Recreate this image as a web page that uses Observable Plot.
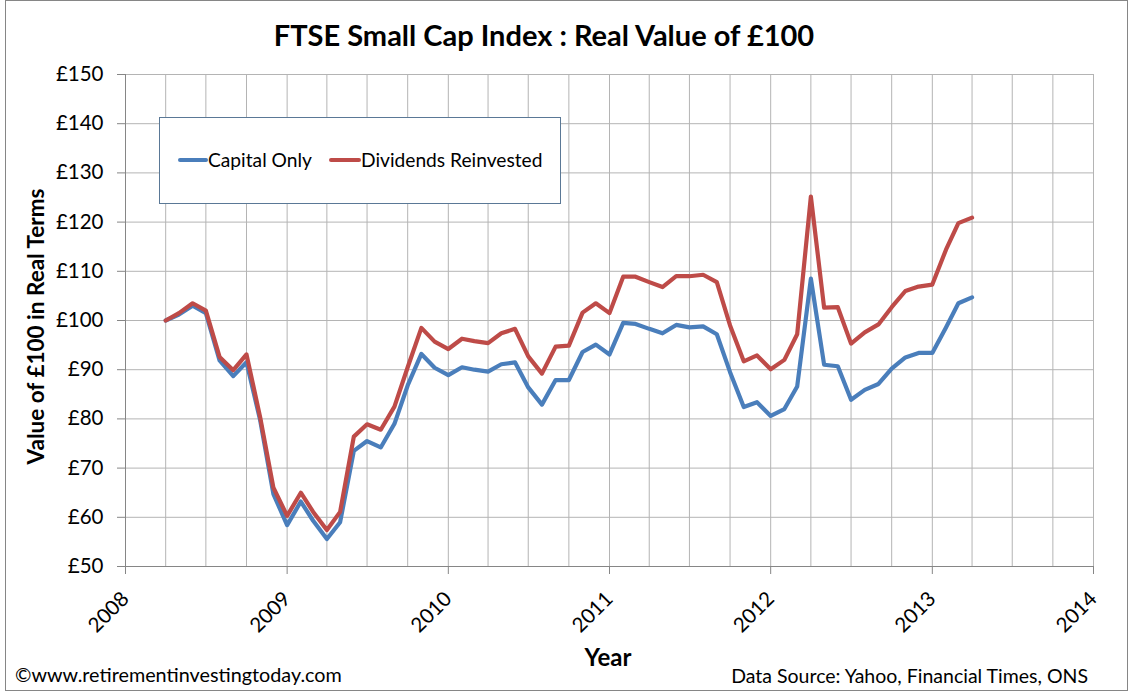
<!DOCTYPE html>
<html>
<head>
<meta charset="utf-8">
<script src="https://cdn.jsdelivr.net/npm/d3@7"></script>
<script src="https://cdn.jsdelivr.net/npm/@observablehq/plot@0.6"></script>
<style>
  html, body { margin: 0; padding: 0; background: #fff; }
  #wrap { position: relative; width: 1131px; height: 692px; overflow: hidden; }
</style>
</head>
<body>
<div id="wrap"></div>
<script>
// ---- Data ----
const chartTitle = "FTSE Small Cap Index : Real Value of £100";
const yTitle = "Value of £100 in Real Terms";
const xTitle = "Year";
const copyrightText = "©www.retirementinvestingtoday.com";
const sourceText = "Data Source: Yahoo, Financial Times, ONS";

const seriesNames = ["Capital Only", "Dividends Reinvested"];
const seriesColors = ["#4a7ebb", "#be4b48"];

const firstMonth = "2008-04-01"; // monthly values from April 2008 to April 2013

const capitalOnly = [100, 101.2, 103.0, 101.5, 91.9, 88.7, 91.5, 79.7, 64.7, 58.4,
  63.2, 59.3, 55.6, 59.0, 73.5, 75.5, 74.2, 79.0, 86.8, 93.2,
  90.4, 88.9, 90.5, 90.0, 89.6, 91.1, 91.5, 86.4, 82.9, 87.9,
  87.9, 93.6, 95.1, 93.1, 99.5, 99.3, 98.3, 97.4, 99.1, 98.6,
  98.8, 97.2, 89.5, 82.4, 83.4, 80.6, 82.0, 86.6, 108.5, 91.0,
  90.7, 83.9, 85.9, 87.1, 90.2, 92.5, 93.4, 93.4, 98.6, 103.5, 104.7];

const dividendsReinvested = [100, 101.5, 103.5, 102.0, 92.6, 89.9, 93.1, 80.3, 66.0, 60.3,
  65.0, 61.1, 57.4, 61.1, 76.4, 78.9, 77.8, 82.5, 90.5, 98.5,
  95.7, 94.2, 96.3, 95.8, 95.4, 97.4, 98.3, 92.7, 89.2, 94.7,
  94.9, 101.6, 103.5, 101.5, 108.9, 108.9, 107.8, 106.8, 109.0, 109.0,
  109.3, 107.8, 99.0, 91.7, 92.9, 90.1, 92.0, 97.2, 125.2, 102.6,
  102.7, 95.3, 97.6, 99.2, 102.7, 106.0, 106.9, 107.3, 114.4, 119.8, 120.9];

const yearTicks = [2008, 2009, 2010, 2011, 2012, 2013, 2014];
const valueTicks = [50, 60, 70, 80, 90, 100, 110, 120, 130, 140, 150];

// ---- Build tables ----
const start = new Date(firstMonth + "T00:00:00Z");
const months = d3.utcMonth.range(start, d3.utcMonth.offset(start, capitalOnly.length));
const rows = [
  ...capitalOnly.map((v, i) => ({date: months[i], value: v, series: seriesNames[0]})),
  ...dividendsReinvested.map((v, i) => ({date: months[i], value: v, series: seriesNames[1]}))
];
const yearDates = yearTicks.map(y => new Date(Date.UTC(y, 0, 1)));
const quarterDates = d3.utcMonth.every(3).range(yearDates[0], d3.utcDay.offset(yearDates[yearDates.length - 1], 1));

const gridColor = "#b4b4b4";
const axisColor = "#868686";
const font = "Lato, 'Open Sans', sans-serif";

const chart = Plot.plot({
  width: 1131,
  height: 692,
  marginLeft: 125,
  marginRight: 38,
  marginTop: 74,
  marginBottom: 126,
  style: {fontFamily: font, fontSize: "20.5px", color: "#000", background: "#fff", overflow: "visible"},
  x: {type: "utc", domain: [yearDates[0], yearDates[yearDates.length - 1]]},
  y: {domain: [valueTicks[0], valueTicks[valueTicks.length - 1]]},
  color: {domain: seriesNames, range: seriesColors},
  marks: [
    Plot.ruleX(quarterDates, {stroke: gridColor, strokeWidth: 1}),
    Plot.ruleY(valueTicks, {stroke: gridColor, strokeWidth: 1}),
    Plot.ruleX([yearDates[0]], {stroke: axisColor}),
    Plot.ruleY([valueTicks[0]], {stroke: axisColor}),
    Plot.axisY({ticks: valueTicks, tickFormat: d => "£" + d, tickSize: 8, tickPadding: 14, stroke: axisColor, label: null}),
    Plot.axisX({ticks: yearDates, tickFormat: d3.utcFormat("%Y"), tickRotate: -45, tickSize: 8, tickPadding: 21, stroke: axisColor, label: null}),
    Plot.line(rows, {x: "date", y: "value", z: "series", stroke: "series", strokeWidth: 4.2, strokeLinejoin: "round", strokeLinecap: "round"})
  ]
});

document.getElementById("wrap").appendChild(chart);

// ---- Annotations: title, axis titles, legend, footnotes ----
const svg = d3.select(chart);
const ann = svg.append("g").attr("font-family", font).attr("fill", "#000").attr("text-anchor", "start");

ann.append("rect")
  .attr("x", 5.5).attr("y", 0.5).attr("width", 1122).attr("height", 690)
  .attr("fill", "none").attr("stroke", axisColor);

ann.append("text")
  .attr("x", 544).attr("y", 46).attr("text-anchor", "middle")
  .attr("font-size", 29).attr("font-weight", "bold")
  .text(chartTitle);

ann.append("text")
  .attr("transform", "translate(44,326.5) rotate(-90)")
  .attr("text-anchor", "middle")
  .attr("font-size", 22.5).attr("font-weight", "bold")
  .text(yTitle);

ann.append("text")
  .attr("x", 608).attr("y", 666).attr("text-anchor", "middle")
  .attr("font-size", 24).attr("font-weight", "bold")
  .text(xTitle);

ann.append("text")
  .attr("x", 15).attr("y", 682).attr("text-anchor", "start")
  .attr("font-size", 19.8)
  .text(copyrightText);

ann.append("text")
  .attr("x", 1088).attr("y", 683).attr("text-anchor", "end")
  .attr("font-size", 19.5)
  .text(sourceText);

// Legend box
const leg = ann.append("g");
leg.append("rect")
  .attr("x", 159.5).attr("y", 117.5).attr("width", 401).attr("height", 86)
  .attr("fill", "#fff").attr("stroke", "#5a7896");
const legItems = [
  {x0: 180, x1: 206, tx: 208},
  {x0: 331, x1: 359, tx: 361}
];
seriesNames.forEach((name, i) => {
  const it = legItems[i];
  leg.append("line")
    .attr("x1", it.x0).attr("x2", it.x1).attr("y1", 160).attr("y2", 160)
    .attr("stroke", seriesColors[i]).attr("stroke-width", 4).attr("stroke-linecap", "round");
  leg.append("text")
    .attr("x", it.tx).attr("y", 166.5).attr("text-anchor", "start")
    .attr("font-size", 19.2)
    .text(name);
});
</script>
</body>
</html>
